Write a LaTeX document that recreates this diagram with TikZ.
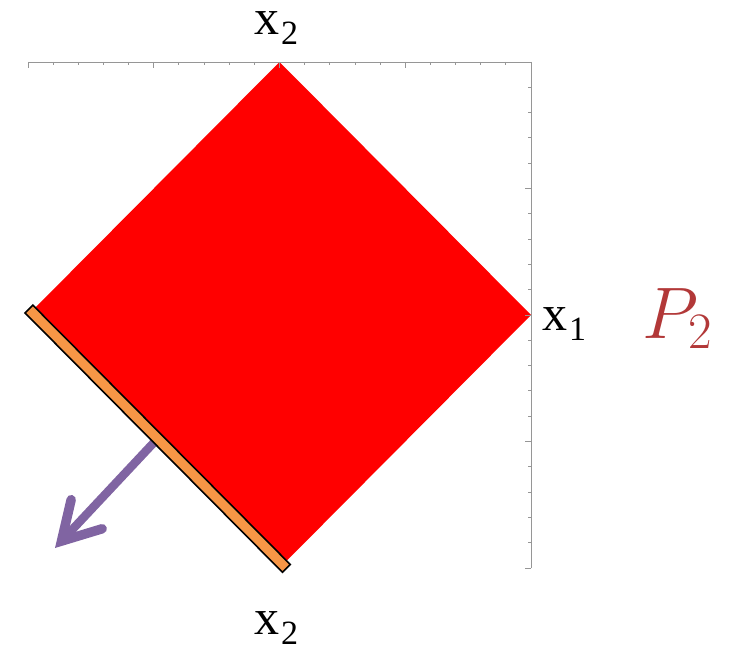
\RequirePackage{fix-cm}
\documentclass[tikz,border=0pt]{standalone}
\usepackage[no-math]{fontspec}
\newfontfamily\labelfont{Liberation Serif}
\usetikzlibrary{calc}
\definecolor{axisgray}{RGB}{150,150,150}
\definecolor{barorange}{RGB}{247,150,70}
\definecolor{normalpurple}{RGB}{128,100,162}
\definecolor{plabel}{RGB}{178,56,56}
\tikzset{
  axisline/.style={draw=axisgray, line width=0.9pt},
  facetbar/.style={fill=barorange, draw=black, line width=1.6pt, line join=miter},
  normalarrow/.style={draw=normalpurple, line width=8.5pt},
  axislabel/.style={inner sep=0pt, anchor=base west, font=\labelfont\fontsize{50}{50}\selectfont},
}
\newcommand{\axlab}[2]{#1\kern2pt\raisebox{-10pt}{\fontsize{34}{34}\selectfont #2}}
\begin{document}
\begin{tikzpicture}[x=1pt,y=1pt]
\useasboundingbox (0,0) rectangle (738,649);
\begin{scope}[shift={(279.5,334)}, x=251.5pt, y=253pt]
  \fill[red] (0,1) -- (1,0) -- (0,-1) -- (-1,0) -- cycle;
  \draw[axisline] (-1,1) -- (1,1) -- (1,-1);
  \foreach \i in {-10,...,10} {
    \pgfmathsetmacro\len{ifthenelse(mod(abs(\i),5)==0,6,3.5)}
    \draw[axisline] (\i/10,1) -- ++(0,-\len pt);
    \draw[axisline] (1,\i/10) -- ++(-\len pt,0);
  }
\end{scope}
% normal arrow
\coordinate (start) at (160,213);
\coordinate (tip) at (55,101);
\coordinate (V) at ($(tip)!9.5pt!(start)$);
\coordinate (B1) at ($(V)!42.5pt!30:(start)$);
\coordinate (B2) at ($(V)!42.5pt!-30:(start)$);
\draw[normalarrow, line cap=butt] (start) -- (V);
\draw[normalarrow, line width=9.5pt, line cap=round, line join=miter] (B1) -- (V) -- (B2);
% facet bar
\filldraw[facetbar] (25,336.1) -- (32.8,343.9) -- (290.3,84.5) -- (282.5,76.7) -- cycle;
% labels
\node[axislabel] (x2top) at (254,614) {\axlab{x}{2}};
\node[axislabel] (x2bot) at (254,15) {\axlab{x}{2}};
\node[axislabel] (x1) at (542,319) {\axlab{x}{1}};
\node[inner sep=0pt, anchor=base west, text=plabel, font=\fontsize{73}{73}\selectfont] (p2) at (642,311) {$P_2$};
\end{tikzpicture}
\end{document}
